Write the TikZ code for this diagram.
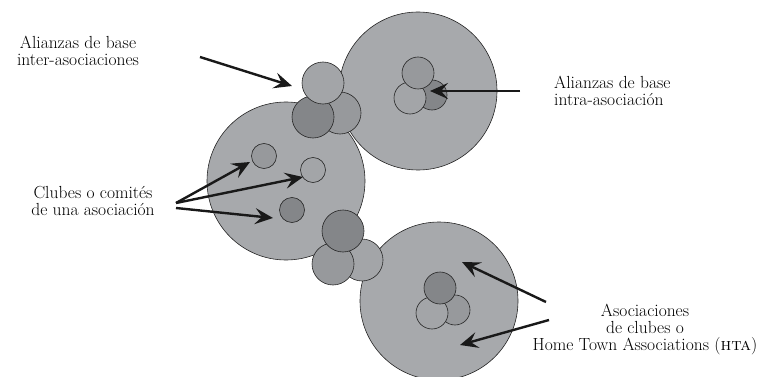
\documentclass[tikz,border=0pt]{standalone}
\usetikzlibrary{arrows.meta}
\definecolor{biggray}{HTML}{A7A9AC}
\definecolor{lightgray2}{HTML}{A3A5A8}
\definecolor{midgray}{HTML}{97999C}
\definecolor{darkgray2}{HTML}{848689}
\tikzset{
  disc/.style={circle,draw=black!85,line width=0.6pt,inner sep=0pt,minimum size=#1},
  bigdisc/.style={disc=158pt,fill=biggray},
  lbl/.style={align=center,inner sep=0pt,font=\fontsize{17.5}{17}\selectfont},
  pointer/.style={line width=2.4pt,draw=black!90,-{Stealth[length=18pt,width=16pt,inset=7pt]}}
}
\begin{document}
\begin{tikzpicture}[x=1pt,y=-1pt]
\useasboundingbox (0,0) rectangle (760,377);
% big circles
\node[bigdisc] (A) at (418,91) {};
\node[bigdisc] (B) at (286,181) {};
\node[bigdisc] (C) at (439,301) {};
% cluster top (between A and B)
\node[disc=42pt,fill=midgray] (t3) at (340,113) {};
\node[disc=42pt,fill=darkgray2] (t2) at (313,117) {};
\node[disc=42pt,fill=lightgray2] (t1) at (323,83) {};
% cluster bottom (between B and C)
\node[disc=42pt,fill=lightgray2] (b3) at (362,260) {};
\node[disc=42pt,fill=midgray] (b2) at (333,264) {};
\node[disc=42pt,fill=darkgray2] (b1) at (343,231) {};
% inner cluster in A
\node[disc=30pt,fill=darkgray2] (a3) at (432,95) {};
\node[disc=32pt,fill=lightgray2] (a2) at (410,98) {};
\node[disc=32pt,fill=midgray] (a1) at (418,73) {};
% clubs in B
\node[disc=25pt,fill=midgray] (c1) at (264,156) {};
\node[disc=25pt,fill=lightgray2] (c2) at (313,170) {};
\node[disc=25pt,fill=darkgray2] (c3) at (292,210) {};
% inner cluster in C
\node[disc=30pt,fill=midgray] (d3) at (455,310) {};
\node[disc=32pt,fill=lightgray2] (d2) at (432,313) {};
\node[disc=32pt,fill=darkgray2] (d1) at (440,288) {};
% labels
\node[lbl] (L1) at (78,51) {Alianzas de base\\inter-asociaciones};
\node[lbl,align=left,anchor=west] (L2) at (554,91) {Alianzas de base\\intra-asociación};
\node[lbl] (L3) at (93,201) {Clubes o comités\\de una asociación};
\node[lbl] (L4) at (645,329) {Asociaciones\\de clubes o\\Home Town Associations (\textsc{hta})};
% arrow coordinates
\coordinate (s1) at (200,57);  \coordinate (e1) at (292,86);
\coordinate (s2) at (520,91);  \coordinate (e2) at (430,91);
\coordinate (s3) at (176,203); \coordinate (e3a) at (250,162);
\coordinate (e3b) at (303,177);
\coordinate (s3c) at (176,208); \coordinate (e3c) at (273,218);
\coordinate (s4a) at (546,302); \coordinate (e4a) at (462,262);
\coordinate (s4b) at (549,320); \coordinate (e4b) at (460,345);
% arrows
\draw[pointer] (s1) -- (e1);
\draw[pointer] (s2) -- (e2);
\draw[pointer] (s3) -- (e3a);
\draw[pointer] (s3) -- (e3b);
\draw[pointer] (s3c) -- (e3c);
\draw[pointer] (s4a) -- (e4a);
\draw[pointer] (s4b) -- (e4b);
\end{tikzpicture}
\end{document}
